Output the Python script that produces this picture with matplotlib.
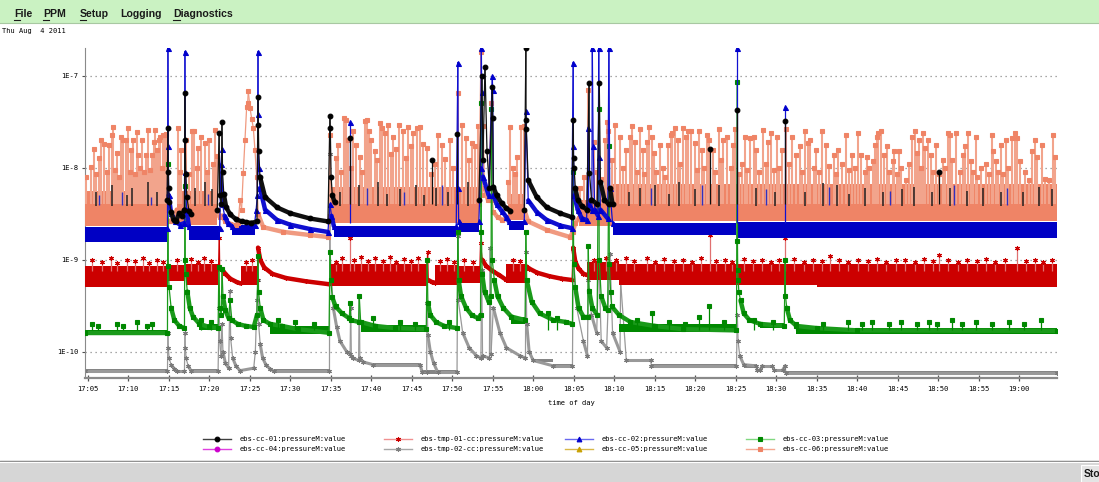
import numpy as np
import matplotlib
matplotlib.use("Agg")
import matplotlib.pyplot as plt
from matplotlib.lines import Line2D
from matplotlib.patches import Rectangle
from matplotlib.collections import LineCollection
from matplotlib.ticker import FixedLocator, FixedFormatter, NullLocator

# time axis: minutes after 17:00, values in units of 1e-9
N = 1e-9
NAN = (np.nan, np.nan)
T_START, T_END = 4.67, 124.67

xtick_min = list(range(5, 121, 5))
xtick_lab = [f"{17 + m // 60}:{m % 60:02d}" for m in xtick_min]
ytick_val = [1e-10, 1e-9, 1e-8, 1e-7]
ytick_lab = ["1E-10", "1E-9", "1E-8", "1E-7"]

# ---- ebs-cc-01 (black) ----
cc01_trace = [(14.8, 4.5), (14.91, 27), (14.95, 9), (15.0, 6), (15.1, 4.2), (15.3, 3.3), (15.6, 2.7), (15.9, 2.6),
              (16.3, 3.2), (16.6, 3.0), (16.95, 3.5), (17.01, 65), (17.04, 20), (17.1, 8.5), (17.25, 4.8),
              (17.5, 3.4), (17.8, 3.1), NAN,
              (21.0, 3.5), (21.23, 24), (21.3, 5), (21.5, 4), (21.58, 31), (21.65, 9), (21.8, 5.2), (22.1, 3.7),
              (22.6, 3.1), (23.3, 2.75), (24.0, 2.6), (24.6, 2.55), (25.2, 2.5), (25.9, 2.6), (26.03, 59),
              (26.07, 29), (26.12, 15), (26.27, 8.0), (26.9, 4.8), (28.37, 3.7), (29.98, 3.2), (32.44, 2.8),
              (34.66, 2.6), (34.91, 36), (34.95, 27), (35.05, 8), (35.2, 5), (35.5, 4.2), NAN,
              (53.3, 4.5), (53.68, 100), (53.8, 12), (54.05, 125), (54.3, 15), (54.6, 6), (54.95, 76), (55.0, 35),
              (55.08, 6.2), (55.5, 5.0), (56.1, 4.1), (56.7, 3.6), (57.2, 3.4), NAN,
              (58.9, 3.5), (59.1, 200), (59.12, 33), (59.15, 26), (59.39, 7.3), (60.43, 4.8), (61.67, 3.7),
              (63.31, 3.2), (64.75, 2.9), (64.94, 33), (64.98, 12.8), (65.05, 10), (65.2, 6), (65.5, 4.5),
              (66.0, 3.8), (66.64, 3.5), (66.9, 84), (66.95, 8.8), (67.2, 4.5), (67.9, 4.0), (68.16, 84),
              (68.3, 7), (68.8, 4.5), (69.3, 4.0), (69.48, 6.0), (69.8, 4.0)]
cc01_spikes = [(37.38, 21), (47.5, 12), (50.6, 23), (81.83, 16), (85.2, 42), (91.1, 32), (110.1, 9)]
cc01_dashes = [(6.0, 5.5), (8.0, 6.5), (9.9, 5.0), (10.5, 6.0), (12.4, 7.0), (13.5, 5.5), (18.2, 6.0), (19.5, 7.0),
               (20.4, 5.8), (36.2, 5.5), (38.5, 6.5), (40.8, 7.0), (42.0, 5.2), (43.5, 5.8), (45.5, 6.5),
               (46.5, 5.0), (48.0, 6.0), (49.5, 5.5), (52.0, 7.0), (71.8, 5.5), (73.2, 6.0), (75.0, 6.5),
               (76.8, 5.2), (78.0, 7.0), (80.0, 5.8), (83.0, 6.5), (87.5, 6.0), (89.8, 5.5), (93.5, 5.5),
               (95.8, 6.8), (97.5, 6.5), (99.0, 5.2), (101.0, 6.0), (103.2, 5.5), (105.5, 5.8), (107.0, 6.2),
               (109.2, 5.5), (111.5, 6.0), (113.5, 5.6), (115.5, 6.0), (117.8, 5.4), (120.5, 5.5),
               (122.5, 6.2), (124.0, 5.8)]

# ---- ebs-cc-02 (blue) ----
cc02_band = [(4.67, 14.85, 1.55, 2.25), (17.5, 21.3, 1.65, 2.3), (22.8, 25.6, 1.85, 2.35), (35.4, 50.5, 1.75, 2.3),
             (50.8, 53.3, 2.0, 2.6), (57.0, 58.9, 2.1, 2.6), (69.8, 85.0, 1.85, 2.5), (85.3, 124.67, 1.72, 2.55)]
cc02_trace = [(14.85, 2.2), (14.91, 200), (14.95, 17), (15.0, 5), (15.3, 3.2), (15.8, 2.6), (16.4, 2.4),
              (16.95, 2.5), (17.01, 183), (17.06, 9), (17.2, 3.5), (17.5, 2.3), NAN,
              (21.3, 2.2), (21.45, 11), (21.58, 16), (21.65, 4), (21.9, 3.0), (22.3, 2.5), (22.8, 2.3), NAN,
              (25.6, 2.4), (25.8, 3.5), (25.95, 5.0), (26.03, 183), (26.05, 38), (26.1, 10), (26.27, 6.0),
              (26.9, 3.5), (28.37, 2.7), (29.98, 2.4), (32.44, 2.15), (34.66, 2.0), (34.91, 4.0), (35.1, 3.0),
              (35.4, 2.3), NAN,
              (50.5, 2.3), (50.7, 139), (50.75, 6), (50.8, 2.6), NAN,
              (53.3, 2.6), (53.5, 10), (53.6, 200), (53.65, 67), (53.8, 8), (54.5, 5), (54.95, 98), (55.0, 70),
              (55.1, 5), (55.5, 4.0), (56.1, 3.4), (56.7, 2.9), (57.0, 2.6), NAN,
              (58.9, 2.6), (59.1, 41), (59.39, 4.4), (60.43, 3.3), (61.67, 2.7), (63.31, 2.35), (64.75, 2.2),
              (64.94, 139), (64.97, 17), (65.05, 5), (65.5, 3.5), (66.0, 2.8), (66.6, 2.7), (66.8, 27),
              (66.85, 4), (67.25, 3.5), (67.3, 200), (67.4, 17), (67.6, 3.5), (68.0, 3.0), (68.1, 200),
              (68.15, 13), (68.3, 3.5), (69.2, 2.8), (69.35, 200), (69.45, 6), (69.8, 2.5)]
cc02_spikes = [(37.38, 31), (85.2, 200), (91.1, 46)]
cc02_dashes = [(6.4, 5.0), (9.2, 5.5), (12.8, 4.8), (19.8, 5.2), (39.5, 6.0), (44.0, 5.4), (48.8, 6.5),
               (74.5, 6.0), (80.8, 6.4), (88.8, 5.8), (96.5, 6.2), (104.0, 5.6), (112.0, 6.5), (118.5, 6.0)]

# ---- ebs-cc-06 (salmon) ----
cc06_band = [(4.67, 14.75, 2.3, 5.6), (16.0, 21.0, 2.4, 5.6), (34.95, 53.3, 2.5, 6.2), (56.9, 58.9, 2.7, 5.2),
             (65.6, 69.8, 2.3, 4.4), (69.8, 124.67, 2.6, 6.6)]
cc06_trace = [(14.75, 3.5), (14.9, 2.6), (15.2, 2.6), (15.6, 2.9), (16.0, 3.5), NAN,
              (21.0, 3.5), (21.3, 2.9), (21.6, 3.0), (22.0, 2.6), (22.6, 2.45), (23.3, 2.35), (23.6, 2.5),
              (23.8, 4.45), (24.0, 3.5), (24.21, 8.8), (24.42, 20), (24.63, 46), (24.75, 50), (24.83, 67.5),
              (25.04, 44.5), (25.25, 34), (25.45, 27), (25.65, 15.6), (25.86, 8), (26.06, 3.1), (26.68, 2.25),
              (29.15, 2.0), (32.44, 1.85), (34.7, 1.76), (34.95, 3.0), NAN,
              (53.3, 4.0), (53.55, 179), (53.7, 5), (53.83, 28.5), (54.0, 6), (54.4, 4.5), (54.85, 50.4),
              (54.95, 4.5), (55.1, 3.3), (55.6, 2.9), (56.2, 2.7), (56.9, 2.8), NAN,
              (58.9, 3.5), (59.39, 2.6), (61.67, 2.1), (64.54, 1.76), (64.9, 2.0), (65.2, 2.5), (65.6, 2.8)]
cc06_spikes = [
    (4.79, 7.9), (5.36, 10.2), (5.75, 16), (6.05, 8.5), (6.39, 12.8), (6.64, 20), (7.03, 18), (7.33, 9),
    (7.62, 17.6), (8.01, 22.8), (8.11, 27.8), (8.41, 9.5), (8.61, 14.5), (8.9, 8), (9.1, 21.7), (9.35, 20),
    (9.69, 20), (9.99, 27), (10.18, 9), (10.38, 15.7), (10.58, 20), (10.87, 8.5), (11.07, 24.5), (11.17, 13.8),
    (11.46, 10), (11.66, 20), (11.95, 9), (12.15, 13.8), (12.45, 25.7), (12.74, 9.5), (12.94, 13.8),
    (13.14, 19), (13.33, 25.8), (13.53, 15.7), (13.83, 20), (13.93, 21.8), (14.12, 10), (14.32, 22.8),
    (14.52, 22.8), (14.71, 23.5),
    (16.09, 26.9), (16.39, 9), (16.58, 15.6), (17.18, 20), (17.57, 8.5), (17.87, 24.8), (18.16, 25.3),
    (18.46, 10), (18.66, 16.2), (19.05, 21.8), (19.44, 18.5), (19.74, 9), (20.03, 20), (20.43, 11),
    (20.72, 25.8), (21.02, 13.5),
    (34.91, 22.8), (35.7, 12.7), (35.9, 17.7), (36.29, 9), (36.68, 34.5), (36.88, 33.2), (37.17, 20),
    (37.47, 10), (37.77, 24.8), (38.16, 17.7), (38.56, 13), (38.85, 9), (39.24, 31.8), (39.44, 33.2),
    (39.74, 24.8), (40.03, 20), (40.43, 15), (40.72, 12), (41.12, 30.5), (41.31, 26.9), (41.71, 23.7),
    (42.1, 29.2), (42.4, 14), (42.69, 21.8), (43.09, 16), (43.48, 29.2), (43.97, 24.8), (44.27, 12.7),
    (44.56, 28), (44.86, 17), (45.16, 23.7), (45.65, 26.9), (46.04, 28), (46.44, 18), (46.93, 16.2),
    (47.42, 8.5), (47.92, 11), (48.31, 22.8), (48.7, 17.7), (49.1, 12.5), (49.69, 20), (50.08, 10),
    (50.67, 64.7), (51.26, 29.2), (51.66, 21), (52.05, 12), (52.45, 18.5), (52.84, 17), (53.14, 28.5),
    (56.88, 7), (57.18, 27.6), (57.57, 10), (57.77, 8.5), (58.06, 13.2), (58.46, 27.6), (58.85, 28.5),
    (65.75, 6), (66.24, 8), (66.83, 70), (67.52, 19.2), (67.92, 9), (68.41, 7.5), (68.9, 20), (69.15, 31),
    (69.29, 24.8), (69.69, 12), (70.08, 29.2),
    (70.67, 21.8), (71.07, 10), (71.46, 15.6), (71.96, 21.8), (72.25, 28.5), (72.55, 19.2), (72.84, 9),
    (73.14, 26.2), (73.53, 15.6), (73.73, 8.5), (74.02, 19.2), (74.32, 27.6), (74.62, 21.8), (74.91, 14.4),
    (75.21, 9), (75.6, 17.7), (76.0, 10), (76.29, 8), (76.68, 17.7), (76.98, 22.8), (77.18, 23.7),
    (77.47, 26.9), (77.87, 20), (78.16, 11), (78.46, 26.9), (78.85, 21.8), (79.15, 24.8), (79.54, 24.8),
    (79.94, 18.5), (80.23, 9.5), (80.53, 24.8), (80.82, 15.6), (81.12, 10), (81.41, 22.8), (81.71, 20),
    (82.2, 15.6), (82.5, 9), (82.89, 26.2), (83.19, 12), (83.48, 20), (83.97, 21.8), (84.37, 10),
    (84.66, 17.7), (84.96, 26.2), (85.45, 8.5), (85.75, 11), (86.14, 21.4), (86.44, 9.5), (86.73, 21),
    (87.23, 21.8), (87.52, 15.6), (87.92, 9), (88.41, 25.8), (88.7, 11), (89.0, 19.2), (89.39, 23.7),
    (89.69, 9.5), (90.08, 21.8), (90.38, 10), (90.67, 15.6), (91.17, 26.2), (91.56, 11), (91.96, 21.8),
    (92.45, 13.8), (92.94, 17.0), (93.24, 9), (93.53, 24.8), (93.93, 18.5), (94.22, 20), (94.62, 10),
    (94.91, 15.6), (95.3, 9), (95.6, 24.8), (96.19, 17.7), (96.58, 10.5), (97.08, 13.8), (97.37, 8.5),
    (97.67, 15.6), (98.16, 11), (98.65, 22.8), (98.95, 9.5), (99.34, 13.8), (99.74, 10), (100.13, 23.7),
    (100.53, 13.8), (100.92, 9), (101.22, 13.2), (101.51, 9.9), (101.91, 11.9), (102.2, 17.7), (102.4, 21.8),
    (102.59, 23.7), (102.89, 24.8),
    (103.28, 13.8), (103.68, 17), (103.97, 9.0), (104.37, 11.9), (104.56, 15), (104.86, 8.5), (105.16, 15),
    (105.45, 9.9), (106.04, 7.3), (106.44, 11.0), (106.83, 21.8), (107.13, 24.8), (107.42, 14.4),
    (107.62, 20), (107.91, 10), (108.11, 23.7), (108.41, 16.2), (108.8, 20), (109.1, 13.8), (109.39, 9),
    (109.69, 17.7), (110.08, 8.5), (110.57, 12.2), (110.87, 10), (111.17, 23.7), (111.46, 22.8),
    (111.76, 12.2), (112.15, 23.7), (112.65, 9.0), (113.04, 13.8), (113.33, 17), (113.73, 23.7),
    (114.02, 11.9), (114.32, 9), (114.61, 21.8), (114.81, 8.0), (115.3, 10), (115.9, 11.0), (116.29, 8.5),
    (116.59, 22.8), (116.78, 15), (117.18, 11.9), (117.37, 9.0), (117.77, 17.7), (118.06, 8.5),
    (118.36, 20), (118.65, 9.9), (119.15, 21), (119.44, 23.7), (119.74, 21), (120.13, 11.9), (120.72, 8.9),
    (121.22, 7.3), (121.61, 15), (121.9, 20), (122.2, 13.2), (122.79, 17.7), (123.18, 7.5), (123.68, 7.4),
    (124.17, 22.8), (124.47, 13.2)]

# ---- ebs-tmp-01-cc (red) ----
tmp01_band = [(4.67, 14.85, 0.50, 0.85), (14.95, 16.95, 0.58, 0.88), (17.1, 21.15, 0.53, 0.9),
              (23.9, 25.95, 0.53, 0.85), (34.95, 46.85, 0.52, 0.9), (47.9, 50.6, 0.53, 0.88),
              (50.75, 53.4, 0.55, 0.85), (56.7, 59.0, 0.55, 0.9), (66.7, 70.6, 0.6, 0.95),
              (70.6, 95.0, 0.53, 0.9), (95.0, 124.67, 0.50, 0.9)]
tmp01_trace = [(21.15, 0.8), (21.25, 1.7), (21.3, 0.8), (21.6, 0.78), (22.0, 0.7), (22.6, 0.62), (23.4, 0.57),
               (23.9, 0.55), NAN,
               (25.95, 0.6), (26.03, 1.35), (26.3, 1.0), (26.8, 0.82), (27.8, 0.7), (29.5, 0.63), (32.0, 0.58),
               (34.8, 0.54), (34.95, 0.56), NAN,
               (46.85, 0.6), (46.97, 1.2), (47.05, 0.6), (47.5, 0.57), (47.9, 0.56), NAN,
               (53.4, 0.7), (53.5, 1.5), (53.7, 1.0), (54.2, 0.85), (55.0, 0.75), (55.8, 0.68), (56.7, 0.6), NAN,
               (59.0, 0.8), (59.1, 0.85), (59.5, 0.8), (60.5, 0.72), (62.0, 0.66), (63.5, 0.62), (64.8, 0.6),
               (64.94, 1.35), (65.2, 0.95), (65.6, 0.8), (66.2, 0.7), (66.7, 0.68)]
tmp01_spikes = [(37.38, 1.7), (81.83, 1.85), (91.1, 1.7), (96.65, 1.1), (110.1, 1.12), (119.75, 1.33),
                (5.5, 1.0), (6.8, 0.95), (7.9, 1.05), (8.6, 0.92), (9.8, 1.0), (10.9, 0.96), (11.8, 1.04),
                (12.6, 0.93), (13.5, 1.0), (14.3, 0.95), (16.0, 0.98), (17.8, 1.02), (18.6, 0.95), (19.3, 1.05),
                (20.2, 0.97), (24.5, 0.95), (25.3, 0.98), (35.6, 0.95), (36.4, 1.05), (37.9, 0.98), (38.8, 1.08),
                (39.6, 0.96), (40.5, 1.04), (41.4, 0.97), (42.3, 1.06), (43.1, 0.95), (44.0, 1.02), (44.9, 0.97),
                (45.8, 1.05), (48.5, 0.96), (49.4, 1.02), (50.2, 0.95), (51.5, 0.98), (52.6, 0.94), (57.5, 1.0),
                (58.4, 0.96), (67.5, 1.0), (69.0, 1.05), (70.2, 0.98), (71.5, 1.05), (72.4, 0.96), (74.0, 1.03),
                (75.1, 0.95), (76.2, 1.02), (77.4, 0.97), (78.5, 1.0), (79.6, 0.95), (80.7, 1.03), (82.6, 0.96),
                (83.7, 1.0), (84.6, 0.95), (86.0, 1.02), (87.2, 0.97), (88.3, 1.0), (89.4, 0.95), (90.4, 0.98),
                (92.2, 1.02), (93.4, 0.95), (94.5, 1.0), (95.6, 0.96), (97.8, 1.0), (98.9, 0.94), (100.1, 1.0),
                (101.3, 0.96), (102.5, 1.02), (103.6, 0.95), (104.8, 0.98), (105.9, 1.0), (107.1, 0.95),
                (108.2, 1.02), (109.3, 0.96), (111.2, 1.0), (112.4, 0.95), (113.6, 1.0), (114.8, 0.96),
                (115.9, 1.02), (117.0, 0.95), (118.2, 0.98), (120.8, 0.96), (121.9, 1.0), (123.0, 0.95),
                (124.1, 0.98)]

# ---- ebs-cc-03 (green) ----
cc03_band = [(4.67, 14.85, 0.15, 0.172), (18.8, 21.1, 0.17, 0.2), (27.5, 34.8, 0.155, 0.19),
             (38.7, 46.8, 0.165, 0.195), (57.3, 59.0, 0.2, 0.24), (70.6, 85.1, 0.165, 0.2),
             (88.0, 91.0, 0.18, 0.205), (92.5, 124.67, 0.155, 0.18)]
cc03_trace = [(4.67, 0.16), (14.85, 0.16), (14.91, 11), (14.95, 0.85), (15.05, 0.5), (15.3, 0.3), (15.7, 0.22),
              (16.3, 0.19), (16.95, 0.18), (17.01, 6.3), (17.05, 1.0), (17.1, 0.7), (17.3, 0.45), (17.6, 0.3),
              (18.0, 0.24), (18.8, 0.2), (20.0, 0.185), (21.1, 0.18), (21.2, 0.83), (21.3, 0.3), (21.5, 0.25),
              (21.58, 0.8), (21.7, 0.4), (22.0, 0.28), (22.4, 0.23), (22.57, 0.36), (22.8, 0.22), (23.5, 0.2),
              (24.5, 0.19), (25.5, 0.185), (25.9, 0.25), (26.03, 1.1), (26.1, 0.44), (26.3, 0.3), (26.7, 0.22),
              (27.5, 0.2), (29.0, 0.19), (31.0, 0.175), (34.8, 0.16), (34.91, 1.2), (35.0, 0.6), (35.2, 0.39),
              (35.6, 0.31), (36.4, 0.26), (37.3, 0.23), (37.38, 0.34), (37.5, 0.22), (38.45, 0.21),
              (38.53, 0.4), (38.7, 0.21), (40.5, 0.19), (43.0, 0.18), (46.8, 0.175), (46.9, 1.0), (47.0, 0.34),
              (47.3, 0.25), (48.0, 0.21), (49.0, 0.19), (50.6, 0.18), (50.7, 2.0), (50.8, 0.6), (51.1, 0.4),
              (51.7, 0.3), (52.4, 0.25), (53.2, 0.23), (53.5, 0.25), (53.57, 50), (53.6, 2.0), (53.7, 0.7),
              (54.0, 0.45), (54.5, 0.35), (54.8, 0.4), (54.85, 43), (54.95, 1.0), (55.2, 0.6), (55.6, 0.4),
              (56.3, 0.3), (57.3, 0.24), (59.0, 0.22), (59.1, 2.0), (59.2, 0.6), (59.8, 0.35), (60.8, 0.26),
              (62.5, 0.22), (64.0, 0.21), (64.85, 0.2), (64.94, 9), (65.0, 0.9), (65.2, 0.5), (65.6, 0.3),
              (66.2, 0.24), (66.75, 0.24), (66.8, 1.4), (66.9, 0.46), (67.3, 0.3), (67.9, 0.25), (68.1, 43),
              (68.15, 1.0), (68.4, 0.4), (68.9, 0.3), (69.2, 0.28), (69.35, 17), (69.4, 0.9), (69.55, 0.45),
              (69.69, 0.31), (70.6, 0.25), (72.0, 0.21), (75.0, 0.19), (78.5, 0.175), (85.1, 0.17), (85.2, 86),
              (85.22, 1.6), (85.25, 0.78), (85.3, 0.6), (85.4, 0.44), (85.6, 0.36), (86.0, 0.26), (86.7, 0.22),
              (88.0, 0.2), (91.0, 0.19), (91.1, 1.0), (91.15, 0.4), (91.3, 0.3), (91.7, 0.22), (92.5, 0.19),
              (95.0, 0.18), (100.0, 0.17), (124.67, 0.168)]
cc03_bumps = [(5.5, 0.2), (6.3, 0.19), (8.6, 0.2), (9.4, 0.19), (11.1, 0.21), (12.3, 0.19), (12.9, 0.2),
              (19.0, 0.22), (20.2, 0.21), (28.5, 0.22), (30.6, 0.21), (33.0, 0.2), (40.2, 0.23), (43.5, 0.21),
              (45.4, 0.2), (49.6, 0.21), (61.8, 0.26), (63.0, 0.23), (72.8, 0.22), (74.63, 0.26), (76.8, 0.21),
              (78.7, 0.2), (80.45, 0.235), (81.7, 0.31), (83.5, 0.21), (87.3, 0.22), (89.6, 0.21), (92.5, 0.2),
              (95.8, 0.2), (98.9, 0.21), (100.6, 0.2), (101.8, 0.21), (103.9, 0.2), (105.4, 0.21), (107.4, 0.2),
              (108.9, 0.21), (109.9, 0.2), (111.7, 0.22), (113.0, 0.2), (114.7, 0.21), (116.6, 0.2),
              (118.7, 0.21), (120.6, 0.2), (122.7, 0.22)]

# ---- ebs-tmp-02-cc (grey) ----
tmp02_band = [(4.67, 14.85, 0.058, 0.064), (17.8, 21.1, 0.058, 0.064), (28.0, 34.85, 0.058, 0.064),
              (40.26, 46.02, 0.069, 0.075), (46.3, 50.6, 0.057, 0.063), (60.0, 62.45, 0.077, 0.083),
              (62.45, 64.85, 0.067, 0.073), (71.5, 74.5, 0.077, 0.083), (74.6, 85.1, 0.067, 0.073),
              (86.0, 87.5, 0.067, 0.073), (91.2, 124.67, 0.056, 0.062)]
tmp02_trace = [(4.67, 0.061), (14.85, 0.061), (14.91, 0.16), (14.95, 0.11), (15.05, 0.085), (15.3, 0.072),
               (15.7, 0.065), (16.0, 0.061), (16.95, 0.061), (17.01, 0.16), (17.05, 0.11), (17.15, 0.085),
               (17.4, 0.07), (17.8, 0.061), (21.1, 0.061), (21.23, 0.3), (21.3, 0.13), (21.45, 0.09),
               (21.58, 0.2), (21.7, 0.1), (22.0, 0.075), (22.4, 0.066), (22.57, 0.46), (22.65, 0.14),
               (22.9, 0.085), (23.3, 0.07), (23.8, 0.062), (25.5, 0.066), (25.7, 0.1), (25.9, 0.36),
               (26.03, 0.6), (26.1, 0.2), (26.3, 0.12), (26.6, 0.085), (27.0, 0.072), (27.5, 0.065),
               (28.0, 0.061), (34.85, 0.061), (34.91, 14), (34.93, 1.2), (35.12, 0.6), (35.32, 0.3),
               (35.74, 0.185), (36.15, 0.13), (36.97, 0.1), (37.4, 0.095), (37.47, 0.3), (37.55, 0.09),
               (37.79, 0.085), (38.45, 0.08), (38.53, 0.39), (38.6, 0.085), (39.03, 0.077), (40.26, 0.072),
               (46.02, 0.072), (46.3, 0.06), (46.85, 0.06), (46.9, 0.34), (47.0, 0.15), (47.3, 0.1),
               (47.7, 0.075), (48.2, 0.06), (50.6, 0.06), (50.7, 1.8), (50.75, 0.36), (51.3, 0.16), (52.1, 0.11),
               (53.0, 0.09), (53.55, 0.085), (53.64, 0.78), (53.75, 0.09), (54.6, 0.085), (54.67, 1.35),
               (54.8, 0.095), (55.08, 0.3), (55.9, 0.16), (56.7, 0.11), (58.37, 0.09), (59.05, 0.085),
               (59.1, 1.2), (59.2, 0.2), (59.5, 0.1), (60.0, 0.08), (62.45, 0.07), (64.85, 0.07), (64.94, 1.3),
               (65.37, 0.3), (66.2, 0.13), (66.7, 0.09), (66.8, 0.6), (67.2, 0.25), (67.84, 0.16), (68.1, 1.0),
               (68.4, 0.13), (69.07, 0.11), (69.48, 1.15), (69.8, 0.16), (70.72, 0.1), (70.8, 0.57),
               (71.5, 0.08), (74.5, 0.08), (74.6, 0.07), (85.1, 0.07), (85.2, 0.25), (85.3, 0.13), (85.5, 0.09),
               (86.0, 0.072), (87.5, 0.07), (87.6, 0.063), (88.0, 0.063), (88.3, 0.07), (89.5, 0.07),
               (89.7, 0.063), (90.8, 0.063), (91.1, 0.07), (91.2, 0.059), (124.67, 0.059)]

LEGEND = [  # (label, line colour, marker colour, marker, row, column)
    ("ebs-cc-01:pressureM:value", "#404040", "#000000", "o", 0, 0),
    ("ebs-cc-04:pressureM:value", "#e040e0", "#cc00cc", "o", 1, 0),
    ("ebs-tmp-01-cc:pressureM:value", "#f09090", "#cc0000", (6, 2, 0), 0, 1),
    ("ebs-tmp-02-cc:pressureM:value", "#a8a8a8", "#808080", (6, 2, 0), 1, 1),
    ("ebs-cc-02:pressureM:value", "#6868f0", "#0000cc", "^", 0, 2),
    ("ebs-cc-05:pressureM:value", "#d8b848", "#c8a000", "^", 1, 2),
    ("ebs-cc-03:pressureM:value", "#80d880", "#008800", "s", 0, 3),
    ("ebs-cc-06:pressureM:value", "#f4a890", "#ef8466", "s", 1, 3),
]
MENU = ["File", "PPM", "Setup", "Logging", "Diagnostics"]

plt.rcParams["font.family"] = ["DejaVu Sans Mono"]
W, H = 1099, 482
fig = plt.figure(figsize=(W / 100, H / 100), dpi=100)
fx = lambda x: x / W
fy = lambda y: 1 - y / H

ax = fig.add_axes([fx(85), fy(378), (1057 - 85) / W, (378 - 48) / H])
ax.set_yscale("log")
ax.set_xlim(T_START, T_END)
ax.set_ylim(5.16e-11, 2.0e-7)


def xy(pairs):
    a = np.array(pairs, dtype=float)
    return a[:, 0], a[:, 1] * N


def band(segs, color, z):
    for t0, t1, lo, hi in segs:
        ax.fill_between([t0, t1], lo * N, hi * N, color=color, lw=0, zorder=z)


def trace(pairs, lc, mc, marker, ms, z, thin=0.9, thick=2.8, mew=0.8):
    # slow decays were logged densely (their markers merge into a thick line),
    # so long flat-ish steps are drawn thick and the fast spikes thin
    t, v = xy(pairs)
    segs, widths = [], []
    for i in range(len(t) - 1):
        if np.isnan(v[i]) or np.isnan(v[i + 1]):
            continue
        segs.append([(t[i], v[i]), (t[i + 1], v[i + 1])])
        slow = (t[i + 1] - t[i]) > 0.25 and abs(np.log10(v[i + 1] / v[i])) < 0.35
        widths.append(thick if slow else thin)
    ax.add_collection(LineCollection(segs, colors=lc, linewidths=widths, zorder=z, capstyle="round"))
    ax.plot(t, v, ls="none", marker=marker, ms=ms, mfc=mc, mec=mc, mew=mew, zorder=z)


def spikes(pairs, base, lc, mc, marker, ms, z, lw=0.9, mew=0.8):
    t, v = xy(pairs)
    ax.vlines(t, base * N, v, colors=lc, lw=lw, zorder=z)
    if marker is not None:
        ax.plot(t, v, ls="none", marker=marker, ms=ms, mfc=mc, mec=mc, mew=mew, zorder=z)


for v in ytick_val:
    ax.axhline(v, color="#8c8c8c", lw=0.9, ls=(0, (1, 3)), zorder=1)

# grey
band(tmp02_band, "#858585", 2)
trace(tmp02_trace, "#999999", "#7a7a7a", (6, 2, 0), 3.2, 2.1, thick=2.2)
# red
band(tmp01_band, "#cc0000", 4)
trace(tmp01_trace, "#cc0000", "#cc0000", (6, 2, 0), 3.2, 4.1, thick=3.2)
spikes(tmp01_spikes, 0.75, "#e07070", "#cc0000", (6, 2, 0), 3.4, 4.2)
# blue band
band(cc02_band, "#0000c4", 5)
# salmon
band(cc06_band, "#ef8466", 6)
spikes(cc06_spikes, 4.0, "#f2a48c", "#ef8466", "s", 3.2, 6.2, lw=1.5)
trace(cc06_trace, "#f09a80", "#ef8466", "s", 3.2, 6.3, thick=3.2)
spikes(cc01_dashes, 3.8, "#202020", None, None, 0, 6.4, lw=1.1)
spikes(cc02_dashes, 3.9, "#3030c0", None, None, 0, 6.4, lw=1.0)
# green
band(cc03_band, "#008800", 7)
trace(cc03_trace, "#1a9a1a", "#008800", "s", 3.0, 7.1, thick=3.2)
spikes(cc03_bumps, 0.17, "#008800", "#008800", "s", 3.0, 7.1)
# blue and black events on top
trace(cc02_trace, "#1010d0", "#0000cc", "^", 3.6, 8, thick=3.2)
spikes(cc02_spikes, 2.5, "#1010d0", "#0000cc", "^", 3.6, 8)
trace(cc01_trace, "#101010", "#000000", "o", 3.4, 8.5, thick=3.2)
spikes(cc01_spikes, 4.0, "#101010", "#000000", "o", 3.4, 8.5)

for side in ("top", "right"):
    ax.spines[side].set_visible(False)
ax.spines["left"].set_color("#8a8a8a")
ax.spines["bottom"].set_color("#8a8a8a")
ax.spines["bottom"].set_linewidth(1.6)
ax.xaxis.set_major_locator(FixedLocator(xtick_min))
ax.xaxis.set_major_formatter(FixedFormatter(xtick_lab))
ax.yaxis.set_major_locator(FixedLocator(ytick_val))
ax.yaxis.set_major_formatter(FixedFormatter(ytick_lab))
ax.yaxis.set_minor_locator(NullLocator())
ax.tick_params(axis="x", direction="inout", length=5, width=0.9, color="#505050", labelsize=5.1, pad=3)
ax.tick_params(axis="y", direction="out", length=2.5, width=0.8, color="#505050", labelsize=5.1, pad=2.5)
ax.set_xlabel("time of day", fontsize=5.1, labelpad=6)

# menu bar
fig.add_artist(Rectangle((0, fy(22)), 1, 22 / H, transform=fig.transFigure, color="#caf2c2", zorder=0))
fig.add_artist(Line2D([0, 1], [fy(22.5)] * 2, color="#a8c8a2", lw=0.8))
for name, x, ul in zip(MENU, [14, 43, 80, 120, 173], [6, 6, 6, 0, 7]):
    fig.text(fx(x), fy(14), name, fontfamily="Liberation Sans", fontweight="bold", fontsize=7.6,
             va="center", ha="left", color="#1a1a1a")
    if ul:
        fig.add_artist(Line2D([fx(x), fx(x + ul)], [fy(19.6)] * 2, color="#1a1a1a", lw=0.8))
fig.text(fx(2), fy(31.5), "Thu Aug  4 2011", fontsize=5.0, va="center", ha="left")

# legend, drawn as a fixed grid like the original widget
for label, lc, mc, mk, row, col in LEGEND:
    x0 = 203 + 181 * col
    yy = fy(439.3 + 9.5 * row)
    fig.add_artist(Line2D([fx(x0), fx(x0 + 28)], [yy, yy], color=lc, lw=1.0))
    fig.add_artist(Line2D([fx(x0 + 14)], [yy], marker=mk, ms=3.4, color=mc, mfc=mc, mec=mc, mew=0.8, ls="none"))
    fig.text(fx(x0 + 37), yy, label, fontsize=5.1, va="center", ha="left")

# status bar at the bottom
fig.add_artist(Rectangle((0, 0), 1, fy(461), transform=fig.transFigure, color="#d6d6d6", zorder=0))
fig.add_artist(Line2D([0, 1], [fy(460.5)] * 2, color="#8c8c8c", lw=1.0))
fig.add_artist(Line2D([0, 1], [fy(462)] * 2, color="#ffffff", lw=0.8))
fig.add_artist(Rectangle((fx(1081), 0), 18 / W, fy(465), transform=fig.transFigure,
                         facecolor="#e4e4e4", edgecolor="#ffffff", lw=0.8, zorder=1))
fig.text(fx(1084), fy(474), "Sto", fontfamily="Liberation Sans", fontweight="bold", fontsize=7.5,
         va="center", ha="left", color="#1a1a1a")

fig.savefig("out.png", dpi=100)
